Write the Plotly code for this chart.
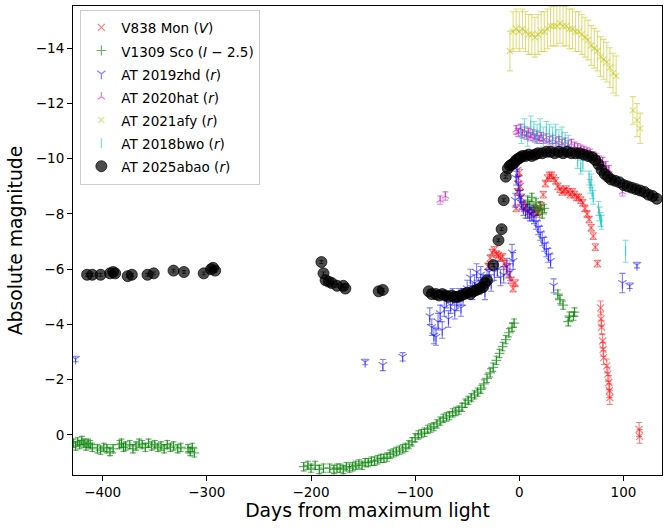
import plotly.graph_objects as go

# ---------------- data ----------------
v838_d = [-30, -28, -26, -24, -22, -20, -18, -16, -14, -12, -10, -8, -6, -4,
          -3, -2, -1, 0, 1, 2, 3, 5, 7, 9, 11, 13, 15, 17, 19, 21, 23, 25, 27, 29,
          31, 33, 35, 37, 39, 41, 43, 45, 47, 49, 51, 53, 55, 57, 59, 61, 63, 65,
          67, 69, 71, 73, 75, 78, 78.5, 79, 80, 80.5, 81, 84, 85, 86, 86.5, 87, 115, 115.5]
v838_m = [-6.1, -6.4, -6.6, -6.7, -6.55, -6.5, -6.4, -6.45, -6.2, -6.1, -5.8, -5.6, -5.3, -5.5,
          -8.2, -8.8, -9.3, -9.5, -9.0, -8.6, -8.3, -8.2, -8.3, -8.1, -8.0, -8.1, -8.2, -8.0, -8.1, -8.3, -8.7, -9.1, -9.3, -9.4,
          -9.4, -9.3, -9.2, -9.0, -8.9, -8.8, -8.85, -8.9, -8.8, -8.7, -8.8, -8.7, -8.6, -8.6, -8.5, -8.4, -8.2, -8.0,
          -7.8, -7.5, -7.2, -6.8, -6.2, -4.6, -4.2, -3.9, -3.4, -3.1, -2.8, -2.5, -2.2, -1.9, -1.6, -1.35, -0.2, 0.05]
v838_e = [0.12] * 57 + [0.25] * 13

v1309_d = [-428, -426, -424, -422, -420, -418, -416, -414, -412, -410, -405, -402, -399, -396, -393, -390,
           -384, -382, -380, -378, -374, -371, -368, -365, -362, -359, -356, -353, -350, -347, -344, -341,
           -338, -335, -332, -328, -325, -318, -316, -314, -312,
           -207, -203, -200, -196, -192, -188, -182, -178, -175, -172, -169, -166, -163, -160, -157, -154,
           -151, -148, -145, -142, -139, -136, -133, -130, -127, -124, -121, -118, -115, -112, -109, -106,
           -103, -100, -97, -94, -91, -88, -85, -82, -79, -76, -73, -70, -67, -64, -61, -58, -55, -52, -49,
           -46, -43, -40, -37, -34, -31, -28, -25, -22, -19, -16, -13, -10, -7, -5,
           8, 10, 12, 14, 16, 18, 20, 22, 24, 37, 39, 42, 47, 48, 52, 53]
v1309_m = [0.3, 0.4, 0.25, 0.35, 0.2, 0.3, 0.4, 0.3, 0.35, 0.45, 0.5, 0.55, 0.45, 0.5, 0.6, 0.5,
           0.35, 0.3, 0.45, 0.4, 0.35, 0.5, 0.4, 0.3, 0.35, 0.45, 0.3, 0.4, 0.35, 0.45, 0.4, 0.5,
           0.35, 0.45, 0.4, 0.5, 0.45, 0.5, 0.6, 0.45, 0.65,
           1.15, 1.1, 1.2, 1.1, 1.25, 1.2, 1.2, 1.25, 1.2, 1.2, 1.25, 1.15, 1.2, 1.15, 1.1, 1.05,
           1.1, 1.0, 1.0, 0.95, 0.95, 0.9, 0.85, 0.85, 0.8, 0.7, 0.65, 0.6, 0.55, 0.5, 0.45, 0.35,
           0.25, 0.1, 0.0, -0.05, -0.1, -0.2, -0.25, -0.3, -0.4, -0.5, -0.6, -0.65, -0.7, -0.8, -0.85, -0.9, -1.0, -1.15, -1.25,
           -1.35, -1.45, -1.55, -1.65, -1.85, -2.05, -2.25, -2.45, -2.7, -2.95, -3.2, -3.45, -3.7, -3.9, -4.05,
           -8.5, -8.3, -8.6, -8.2, -8.4, -8.1, -8.3, -8.0, -8.2, -5.1, -4.9, -4.7, -4.1, -4.3, -4.3, -4.45]
v1309_e = [0.15] * len(v1309_d)

zhd_d = [-426, -148, -131, -112,
         -86, -84, -82, -80, -78, -76, -74, -72, -70, -68, -66, -64, -62, -60, -58, -56, -54, -50,
         -47, -45, -43, -41, -39, -37, -35, -33, -31, -29, -27, -24, -21, -18, -15, -12, -9, -7, -6,
         -4, -3, -2, -1, 0, 1, 2, 4, 6, 8, 10, 12, 14, 16, 18, 20, 22, 24, 26, 28, 30, 33,
         99, 106, 113]
zhd_m = [-2.75, -2.64, -2.53, -2.83,
         -4.3, -3.9, -3.6, -3.55, -4.1, -4.4, -3.8, -4.6, -4.9, -4.2, -4.7, -5.0, -4.5, -4.8, -5.0, -4.6, -5.0, -5.3,
         -5.7, -5.2, -5.5, -5.9, -5.4, -5.8, -5.5, -5.2, -5.7, -5.9, -5.5, -5.9, -6.0, -5.7, -5.8, -6.1, -5.9, -6.6, -6.3,
         -8.5, -9.3, -9.6, -9.1, -8.8, -8.6, -8.4, -8.2, -8.1, -8.1, -8.0, -8.0, -7.9, -7.7, -7.5, -7.3, -7.1, -6.9, -6.7, -6.5, -6.3, -5.4,
         -5.5, -5.4, -6.15]
zhd_e = [0.1, 0.1, 0.2, 0.15] + [0.3] * 37 + [0.25] * 22 + [0.35] + [0.1, 0.1, 0.1]

hat_d = [-76, -71, -3, -1, 1, 3, 5, 7, 9, 11, 13, 15, 17, 19, 21, 23, 26, 29, 32, 35, 38, 41, 44,
         47, 50, 53, 56, 59, 62, 65, 68, 71, 74, 77, 80, 83, 86, 99]
hat_m = [-8.5, -8.65, -11.05, -10.95, -11.1, -10.9, -11.0, -10.85, -10.95, -10.8, -10.9, -10.75, -10.85,
         -10.7, -10.8, -10.7, -10.75, -10.65, -10.7, -10.6, -10.65, -10.55, -10.6, -10.5, -10.55, -10.45,
         -10.4, -10.35, -10.3, -10.25, -10.2, -10.1, -10.05, -9.95, -9.9, -9.75, -9.6, -8.8]
hat_e = [0.15] * len(hat_d)

afy_d = [-9, -6, -3, 0, 3, 6, 9, 12, 15, 18, 21, 24, 27, 30, 33, 36, 39, 42, 45, 48, 51, 54, 57,
         60, 63, 66, 69, 72, 75, 78, 81, 84, 87, 90, 93, 109, 113, 116]
afy_m = [-13.9, -14.6, -14.7, -14.6, -14.7, -14.6, -14.5, -14.5, -14.4, -14.5, -14.6, -14.6, -14.7,
         -14.8, -14.8, -14.8, -14.9, -14.8, -14.8, -14.7, -14.7, -14.6, -14.6, -14.5, -14.4, -14.3,
         -14.1, -14.0, -13.9, -13.7, -13.6, -13.5, -13.3, -13.1, -13.0, -11.75, -11.4, -11.1]
afy_e = [0.72] * 35 + [0.5, 0.6, 0.55]

bwo_d = [2, 5, 8, 11, 14, 17, 20, 23, 26, 29, 32, 35, 38, 41, 44, 47,
         56, 59, 61, 67, 68, 69, 70, 71, 76, 77, 78, 79, 102]
bwo_m = [-10.9, -11.1, -10.8, -11.2, -11.0, -10.9, -11.1, -10.8, -11.0, -10.9, -10.8, -10.9, -10.7,
         -10.8, -10.6, -10.5, -9.9, -9.7, -9.8, -9.3, -9.0, -9.2, -8.8, -8.6, -8.2, -8.0, -7.8, -7.7, -6.65]
bwo_e = [0.35] * 16 + [0.25] * 12 + [0.4]

abao_d = [-415, -410, -402, -393, -390, -388, -376, -372, -357, -351, -332, -322, -303, -296, -294, -292,
          -190, -188, -186, -183, -180, -175, -169, -167, -135, -131,
          -87, -84, -80, -77, -74, -71, -68, -65, -62, -59, -56, -53, -50, -47, -44, -41, -38, -35, -33, -31,
          -25, -20, -17, -15, -13, -11, -9, -7, -5, -3, -1, 1, 3, 6, 9, 12, 15, 18, 22, 26, 30, 34, 38, 42, 46,
          50, 54, 58, 62, 66, 70, 73, 76, 79, 82, 85, 88, 92, 96, 100, 104, 108, 112, 116, 120, 124, 128, 132]
abao_m = [-5.8, -5.8, -5.8, -5.85, -5.9, -5.85, -5.75, -5.8, -5.8, -5.85, -5.95, -5.9, -5.85, -6.0, -6.05, -5.95,
          -6.26, -5.85, -5.6, -5.55, -5.5, -5.4, -5.4, -5.3, -5.2, -5.25,
          -5.2, -5.1, -5.1, -5.05, -5.1, -5.05, -5.0, -5.05, -5.0, -5.0, -5.05, -5.1, -5.15, -5.1, -5.2, -5.25, -5.3, -5.35, -5.5, -5.6,
          -6.15, -7.05, -7.45, -8.5, -9.35, -9.65, -9.75, -9.8, -9.85, -9.95, -10.0, -10.05, -10.1, -10.1, -10.15, -10.1, -10.15, -10.2, -10.2, -10.25, -10.25, -10.2, -10.25, -10.2, -10.25,
          -10.2, -10.2, -10.2, -10.15, -10.1, -10.05, -9.95, -9.8, -9.6, -9.45, -9.35, -9.25, -9.2, -9.15, -9.05, -9.0, -8.95, -8.9, -8.85, -8.8, -8.7, -8.65, -8.55]
abao_e = [0.05] * len(abao_d)

x_ticks = [-400, -300, -200, -100, 0, 100]
x_tick_labels = ["−400", "−300", "−200", "−100", "0", "100"]
y_ticks = [-14, -12, -10, -8, -6, -4, -2, 0]
y_tick_labels = ["−14", "−12", "−10", "−8", "−6", "−4", "−2", "0"]

# ---------------- figure ----------------
FONT = "DejaVu Sans"
fig = go.Figure()


def add(name, d, m, e, rgba, symbol, size, lw=1.2, cap=3):
    marker = dict(symbol=symbol, size=size, color=rgba,
                  line=dict(color=rgba, width=lw))
    fig.add_trace(go.Scatter(
        x=d, y=m, mode="markers",
        name='<span style="font-size:13.5px">' + name + "</span>",
        marker=marker,
        error_y=dict(type="data", array=e, visible=True, color=rgba,
                     thickness=1.1, width=cap),
    ))


add("V838 Mon (<i>V</i>)", v838_d, v838_m, v838_e, "rgba(255,0,0,0.5)", "x-thin", 7)
add("V1309 Sco (<i>I</i> − 2.5)", v1309_d, v1309_m, v1309_e, "rgba(0,128,0,0.6)", "cross-thin", 7)
add("AT 2019zhd (<i>r</i>)", zhd_d, zhd_m, zhd_e, "rgba(0,0,255,0.5)", "y-down", 7)
add("AT 2020hat (<i>r</i>)", hat_d, hat_m, hat_e, "rgba(191,0,191,0.5)", "y-up", 6)
add("AT 2021afy (<i>r</i>)", afy_d, afy_m, afy_e, "rgba(191,191,0,0.5)", "x-thin", 6)
add("AT 2018bwo (<i>r</i>)", bwo_d, bwo_m, bwo_e, "rgba(0,191,191,0.5)", "line-ns", 7)
add("AT 2025abao (<i>r</i>)", abao_d, abao_m, abao_e, "rgba(0,0,0,0.7)", "circle", 11, lw=1, cap=2)

axis_common = dict(
    showline=True, linecolor="black", linewidth=1.1, mirror=True,
    ticks="outside", ticklen=5, tickwidth=1.1, tickcolor="black",
    showgrid=False, zeroline=False, automargin=False,
    tickfont=dict(family=FONT, size=13.5, color="black"),
)

fig.update_layout(
    width=664, height=528,
    margin=dict(l=73, r=2, t=6, b=53, autoexpand=False),
    paper_bgcolor="white", plot_bgcolor="white",
    font=dict(family=FONT, color="black"),
    showlegend=True,
    legend=dict(
        x=0.0125, y=0.992, xanchor="left", yanchor="top",
        bgcolor="rgba(255,255,255,0.8)", bordercolor="#cccccc", borderwidth=1,
        font=dict(family=FONT, size=15.5, color="black"),
        tracegroupgap=0,
    ),
    xaxis=dict(range=[-428.5, 137], tickvals=x_ticks, ticktext=x_tick_labels,
               title=dict(text="Days from maximum light", font=dict(family=FONT, size=18.8), standoff=4),
               **axis_common),
    yaxis=dict(range=[1.45, -15.53], tickvals=y_ticks, ticktext=y_tick_labels,
               title=dict(text="Absolute magnitude", font=dict(family=FONT, size=18.8), standoff=8),
               **axis_common),
)

fig.write_html("out.html", config={"displayModeBar": False},
               post_script="document.body.style.margin='0';document.body.style.padding='0';")
